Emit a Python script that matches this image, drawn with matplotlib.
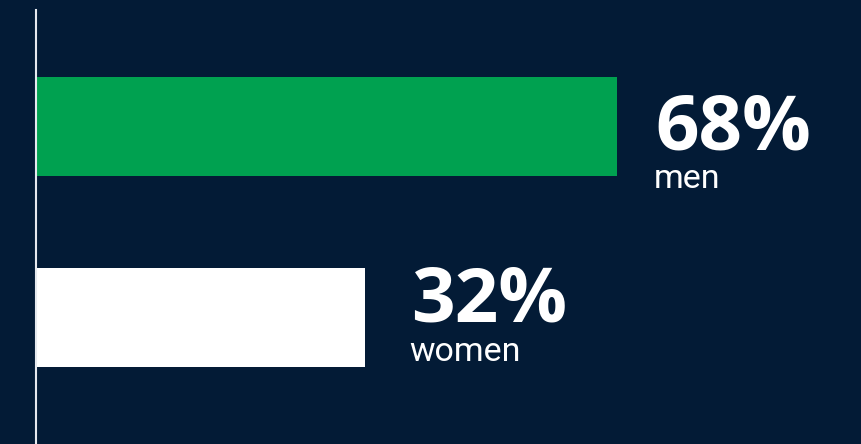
import numpy as np
import matplotlib
matplotlib.use("Agg")
import matplotlib.pyplot as plt

# data
groups = ["men", "women"]
shares = np.array([68, 32])
labels = ["68%", "32%"]

# styling
BG = "#031b36"
bar_colors = ["#00a150", "#ffffff"]
BASE = 15          # bars don't start at zero in the original
pct_dy = [-23, -4]  # baseline offsets (px) from bar centre
pct_dx = [38, 46]

fig = plt.figure(figsize=(8.61, 4.44), dpi=100, facecolor=BG)
ax = fig.add_axes([0, 0, 1, 1], facecolor=BG)

y = np.arange(len(groups))
ax.barh(y, shares + BASE, height=0.518, color=bar_colors, left=0)

ax.set_xlim(-35 / 7.012, 826 / 7.012)
ax.set_ylim(1.662, -0.662)

# axis line on the left
ax.axvline(0.2, ymin=0, ymax=1 - 10 / 444, color="#e6e9ee", lw=1.5, zorder=3)

for i, (v, lab, g) in enumerate(zip(shares, labels, groups)):
    ax.annotate(lab, (v + BASE, y[i]), xytext=(pct_dx[i], pct_dy[i]),
                textcoords="offset pixels", ha="left", va="baseline",
                color="white", fontsize=55, fontweight="bold",
                family=["Open Sans", "DejaVu Sans"])
    ax.annotate(g, (v + BASE, y[i]), xytext=(pct_dx[i] - 1, pct_dy[i] - 39),
                textcoords="offset pixels", ha="left", va="baseline",
                color="white", fontsize=24.5,
                family=["Roboto", "DejaVu Sans"])

ax.axis("off")
fig.savefig("out.png", dpi=100, facecolor=BG)
